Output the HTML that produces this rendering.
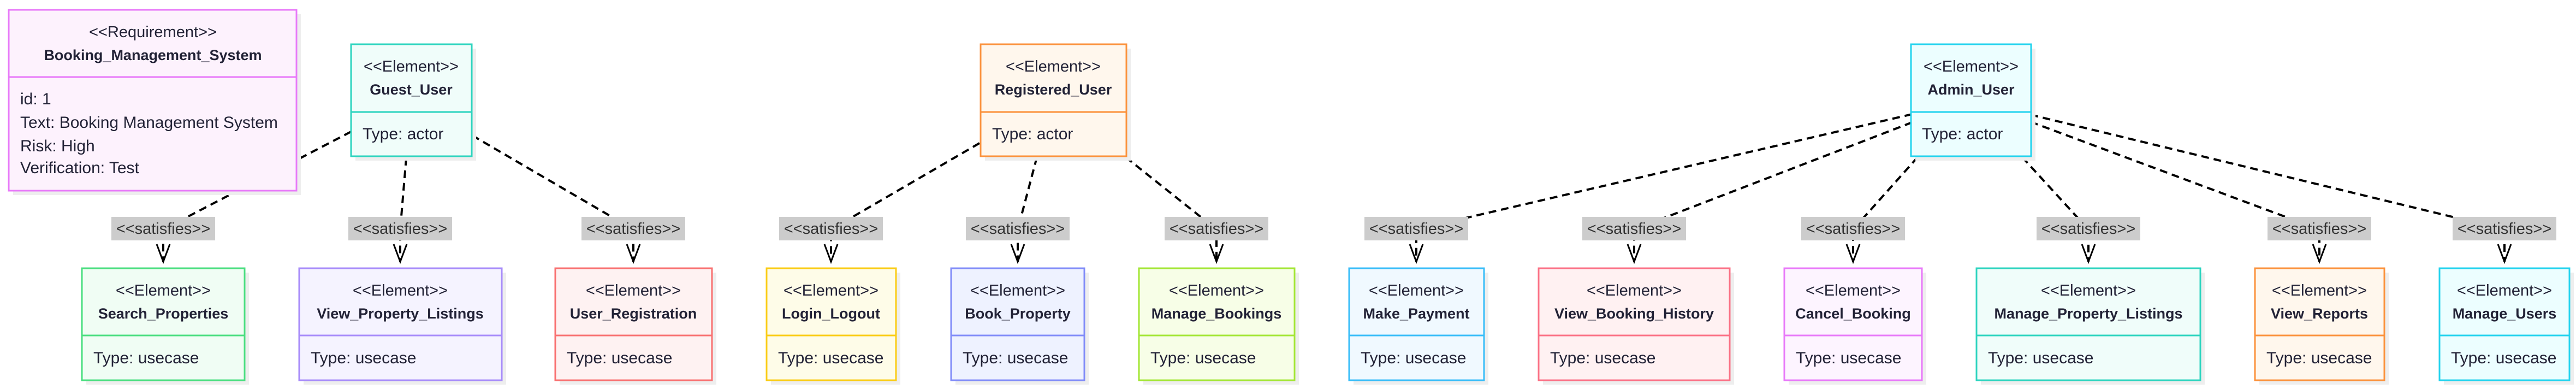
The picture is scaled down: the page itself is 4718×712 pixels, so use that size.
<!DOCTYPE html>
<html><head><meta charset="utf-8"><style>
html,body{margin:0;padding:0;background:#fff;}
svg{display:block;}
text{font-family:"Liberation Sans",sans-serif;fill:#222236;}
.st{font-size:29px;text-anchor:middle;}
.nm{font-size:27px;font-weight:bold;text-anchor:middle;}
.bd{font-size:30px;}
.lb{font-size:29px;text-anchor:middle;fill:#333;}
.e{fill:none;stroke:#000;stroke-width:4;stroke-dasharray:14 9;}
.ah{fill:none;stroke:#000;stroke-width:3;}
</style></head><body>
<svg width="4718" height="712" viewBox="0 0 4718 712" xmlns="http://www.w3.org/2000/svg">
<g id="edges">
<polyline class="e" points="643,241 299,420 299,479"/>
<polyline class="e" points="744,289 733,420 733,479"/>
<polyline class="e" points="865,248 1160,420 1160,479"/>
<polyline class="e" points="1794,262 1522,420 1522,479"/>
<polyline class="e" points="1899,288 1864,420 1864,479"/>
<polyline class="e" points="2062,288 2228,420 2228,479"/>
<polyline class="e" points="3502,209 2594,420 2594,479"/>
<polyline class="e" points="3502,224 2993,420 2993,479"/>
<polyline class="e" points="3512,288 3394,420 3394,479"/>
<polyline class="e" points="3704,288 3825,420 3825,479"/>
<polyline class="e" points="3719,223 4248,420 4248,479"/>
<polyline class="e" points="3719,210 4587,420 4587,479"/>
</g>
<g id="labels">
<rect x="204" y="397" width="190" height="43" fill="#ccc"/><text class="lb" x="299" y="428">&lt;&lt;satisfies&gt;&gt;</text>
<rect x="638" y="397" width="190" height="43" fill="#ccc"/><text class="lb" x="733" y="428">&lt;&lt;satisfies&gt;&gt;</text>
<rect x="1065" y="397" width="190" height="43" fill="#ccc"/><text class="lb" x="1160" y="428">&lt;&lt;satisfies&gt;&gt;</text>
<rect x="1427" y="397" width="190" height="43" fill="#ccc"/><text class="lb" x="1522" y="428">&lt;&lt;satisfies&gt;&gt;</text>
<rect x="1769" y="397" width="190" height="43" fill="#ccc"/><text class="lb" x="1864" y="428">&lt;&lt;satisfies&gt;&gt;</text>
<rect x="2133" y="397" width="190" height="43" fill="#ccc"/><text class="lb" x="2228" y="428">&lt;&lt;satisfies&gt;&gt;</text>
<rect x="2499" y="397" width="190" height="43" fill="#ccc"/><text class="lb" x="2594" y="428">&lt;&lt;satisfies&gt;&gt;</text>
<rect x="2898" y="397" width="190" height="43" fill="#ccc"/><text class="lb" x="2993" y="428">&lt;&lt;satisfies&gt;&gt;</text>
<rect x="3299" y="397" width="190" height="43" fill="#ccc"/><text class="lb" x="3394" y="428">&lt;&lt;satisfies&gt;&gt;</text>
<rect x="3730" y="397" width="190" height="43" fill="#ccc"/><text class="lb" x="3825" y="428">&lt;&lt;satisfies&gt;&gt;</text>
<rect x="4153" y="397" width="190" height="43" fill="#ccc"/><text class="lb" x="4248" y="428">&lt;&lt;satisfies&gt;&gt;</text>
<rect x="4492" y="397" width="190" height="43" fill="#ccc"/><text class="lb" x="4587" y="428">&lt;&lt;satisfies&gt;&gt;</text>
</g>
<g id="arrows">
<polyline class="ah" points="287,447 299,479 311,447"/>
<polyline class="ah" points="721,447 733,479 745,447"/>
<polyline class="ah" points="1148,447 1160,479 1172,447"/>
<polyline class="ah" points="1510,447 1522,479 1534,447"/>
<polyline class="ah" points="1852,447 1864,479 1876,447"/>
<polyline class="ah" points="2216,447 2228,479 2240,447"/>
<polyline class="ah" points="2582,447 2594,479 2606,447"/>
<polyline class="ah" points="2981,447 2993,479 3005,447"/>
<polyline class="ah" points="3382,447 3394,479 3406,447"/>
<polyline class="ah" points="3813,447 3825,479 3837,447"/>
<polyline class="ah" points="4236,447 4248,479 4260,447"/>
<polyline class="ah" points="4575,447 4587,479 4599,447"/>
</g>

<rect x="24" y="26" width="527" height="331" fill="#eee"/>
<rect x="16" y="18" width="527" height="331" fill="#fdf2fd" stroke="#e879f9" stroke-width="3"/>
<line x1="16" y1="141" x2="543" y2="141" stroke="#e879f9" stroke-width="3"/>
<text class="st" x="280" y="68">&lt;&lt;Requirement&gt;&gt;</text>
<text class="nm" x="280" y="110">Booking_Management_System</text>
<text class="bd" x="37" y="191">id: 1</text>
<text class="bd" x="37" y="234">Text: Booking Management System</text>
<text class="bd" x="37" y="277">Risk: High</text>
<text class="bd" x="37" y="317">Verification: Test</text>

<g>
<rect x="651" y="89" width="221" height="205" fill="#eee"/>
<rect x="643" y="81" width="221" height="205" fill="#f0fdfa" stroke="#2dd4bf" stroke-width="3"/>
<line x1="643" y1="205" x2="864" y2="205" stroke="#2dd4bf" stroke-width="3"/>
<text class="st" x="753" y="131">&lt;&lt;Element&gt;&gt;</text>
<text class="nm" x="753" y="173">Guest_User</text>
<text class="bd" x="664" y="255">Type: actor</text>
</g>
<g>
<rect x="1804" y="89" width="267" height="205" fill="#eee"/>
<rect x="1796" y="81" width="267" height="205" fill="#fff7ed" stroke="#fb923c" stroke-width="3"/>
<line x1="1796" y1="205" x2="2063" y2="205" stroke="#fb923c" stroke-width="3"/>
<text class="st" x="1929" y="131">&lt;&lt;Element&gt;&gt;</text>
<text class="nm" x="1929" y="173">Registered_User</text>
<text class="bd" x="1817" y="255">Type: actor</text>
</g>
<g>
<rect x="3508" y="89" width="220" height="205" fill="#eee"/>
<rect x="3500" y="81" width="220" height="205" fill="#ecfeff" stroke="#22d3ee" stroke-width="3"/>
<line x1="3500" y1="205" x2="3720" y2="205" stroke="#22d3ee" stroke-width="3"/>
<text class="st" x="3610" y="131">&lt;&lt;Element&gt;&gt;</text>
<text class="nm" x="3610" y="173">Admin_User</text>
<text class="bd" x="3520" y="255">Type: actor</text>
</g>

<g id="uc">
<rect x="158" y="499" width="298" height="205" fill="#eee"/>
<rect x="150" y="491" width="298" height="205" fill="#f0fdf4" stroke="#4ade80" stroke-width="3"/>
<line x1="150" y1="614" x2="448" y2="614" stroke="#4ade80" stroke-width="3"/>
<text class="st" x="299" y="541">&lt;&lt;Element&gt;&gt;</text><text class="nm" x="299" y="583">Search_Properties</text><text class="bd" x="171" y="665">Type: usecase</text>

<rect x="556" y="499" width="371" height="205" fill="#eee"/>
<rect x="548" y="491" width="371" height="205" fill="#f5f3ff" stroke="#a78bfa" stroke-width="3"/>
<line x1="548" y1="614" x2="919" y2="614" stroke="#a78bfa" stroke-width="3"/>
<text class="st" x="733" y="541">&lt;&lt;Element&gt;&gt;</text><text class="nm" x="733" y="583">View_Property_Listings</text><text class="bd" x="569" y="665">Type: usecase</text>

<rect x="1025" y="499" width="287" height="205" fill="#eee"/>
<rect x="1017" y="491" width="287" height="205" fill="#fef2f2" stroke="#f87171" stroke-width="3"/>
<line x1="1017" y1="614" x2="1304" y2="614" stroke="#f87171" stroke-width="3"/>
<text class="st" x="1160" y="541">&lt;&lt;Element&gt;&gt;</text><text class="nm" x="1160" y="583">User_Registration</text><text class="bd" x="1038" y="665">Type: usecase</text>

<rect x="1412" y="499" width="237" height="205" fill="#eee"/>
<rect x="1404" y="491" width="237" height="205" fill="#fefce8" stroke="#facc15" stroke-width="3"/>
<line x1="1404" y1="614" x2="1641" y2="614" stroke="#facc15" stroke-width="3"/>
<text class="st" x="1522" y="541">&lt;&lt;Element&gt;&gt;</text><text class="nm" x="1522" y="583">Login_Logout</text><text class="bd" x="1425" y="665">Type: usecase</text>

<rect x="1750" y="499" width="244" height="205" fill="#eee"/>
<rect x="1742" y="491" width="244" height="205" fill="#eef2ff" stroke="#818cf8" stroke-width="3"/>
<line x1="1742" y1="614" x2="1986" y2="614" stroke="#818cf8" stroke-width="3"/>
<text class="st" x="1864" y="541">&lt;&lt;Element&gt;&gt;</text><text class="nm" x="1864" y="583">Book_Property</text><text class="bd" x="1763" y="665">Type: usecase</text>

<rect x="2094" y="499" width="285" height="205" fill="#eee"/>
<rect x="2086" y="491" width="285" height="205" fill="#f7fee7" stroke="#a3e635" stroke-width="3"/>
<line x1="2086" y1="614" x2="2371" y2="614" stroke="#a3e635" stroke-width="3"/>
<text class="st" x="2228" y="541">&lt;&lt;Element&gt;&gt;</text><text class="nm" x="2228" y="583">Manage_Bookings</text><text class="bd" x="2107" y="665">Type: usecase</text>

<rect x="2479" y="499" width="247" height="205" fill="#eee"/>
<rect x="2471" y="491" width="247" height="205" fill="#f0f9ff" stroke="#38bdf8" stroke-width="3"/>
<line x1="2471" y1="614" x2="2718" y2="614" stroke="#38bdf8" stroke-width="3"/>
<text class="st" x="2594" y="541">&lt;&lt;Element&gt;&gt;</text><text class="nm" x="2594" y="583">Make_Payment</text><text class="bd" x="2492" y="665">Type: usecase</text>

<rect x="2826" y="499" width="350" height="205" fill="#eee"/>
<rect x="2818" y="491" width="350" height="205" fill="#fff1f2" stroke="#fb7185" stroke-width="3"/>
<line x1="2818" y1="614" x2="3168" y2="614" stroke="#fb7185" stroke-width="3"/>
<text class="st" x="2993" y="541">&lt;&lt;Element&gt;&gt;</text><text class="nm" x="2993" y="583">View_Booking_History</text><text class="bd" x="2839" y="665">Type: usecase</text>

<rect x="3276" y="499" width="252" height="205" fill="#eee"/>
<rect x="3268" y="491" width="252" height="205" fill="#fdf4ff" stroke="#e879f9" stroke-width="3"/>
<line x1="3268" y1="614" x2="3520" y2="614" stroke="#e879f9" stroke-width="3"/>
<text class="st" x="3394" y="541">&lt;&lt;Element&gt;&gt;</text><text class="nm" x="3394" y="583">Cancel_Booking</text><text class="bd" x="3289" y="665">Type: usecase</text>

<rect x="3628" y="499" width="410" height="205" fill="#eee"/>
<rect x="3620" y="491" width="410" height="205" fill="#f0fdfa" stroke="#2dd4bf" stroke-width="3"/>
<line x1="3620" y1="614" x2="4030" y2="614" stroke="#2dd4bf" stroke-width="3"/>
<text class="st" x="3825" y="541">&lt;&lt;Element&gt;&gt;</text><text class="nm" x="3825" y="583">Manage_Property_Listings</text><text class="bd" x="3641" y="665">Type: usecase</text>

<rect x="4138" y="499" width="237" height="205" fill="#eee"/>
<rect x="4130" y="491" width="237" height="205" fill="#fff7ed" stroke="#fb923c" stroke-width="3"/>
<line x1="4130" y1="614" x2="4367" y2="614" stroke="#fb923c" stroke-width="3"/>
<text class="st" x="4248" y="541">&lt;&lt;Element&gt;&gt;</text><text class="nm" x="4248" y="583">View_Reports</text><text class="bd" x="4151" y="665">Type: usecase</text>

<rect x="4476" y="499" width="238" height="205" fill="#eee"/>
<rect x="4468" y="491" width="238" height="205" fill="#ecfeff" stroke="#22d3ee" stroke-width="3"/>
<line x1="4468" y1="614" x2="4706" y2="614" stroke="#22d3ee" stroke-width="3"/>
<text class="st" x="4587" y="541">&lt;&lt;Element&gt;&gt;</text><text class="nm" x="4587" y="583">Manage_Users</text><text class="bd" x="4489" y="665">Type: usecase</text>
</g>
</svg>
</body></html>
